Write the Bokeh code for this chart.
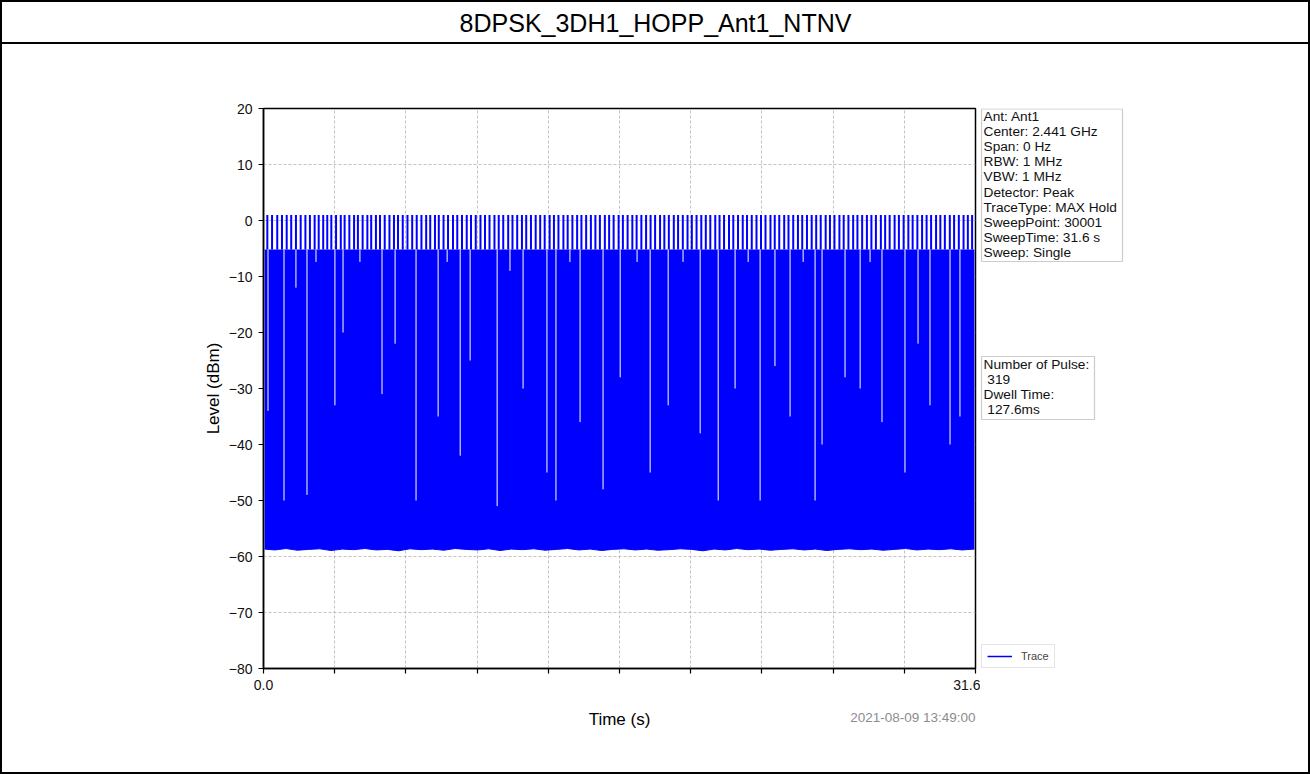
from bokeh.plotting import figure
from bokeh.models import (Range1d, FixedTicker, Title, Legend, LegendItem, Spacer, Label)
from bokeh.layouts import row, column
from bokeh.core.properties import value
from bokeh.embed import file_html
from bokeh.resources import INLINE
import numpy as np

# ---------------- data ----------------
title_text = "8DPSK_3DH1_HOPP_Ant1_NTNV"
x_label = "Time (s)"
y_label = "Level (dBm)"
x_ticks = [0.0, 3.16, 6.32, 9.48, 12.64, 15.8, 18.96, 22.12, 25.28, 28.44, 31.6]
x_tick_labels = ["0.0", "", "", "", "", "", "", "", "", "", "31.6"]
y_ticks = [-80, -70, -60, -50, -40, -30, -20, -10, 0, 10, 20]
y_tick_labels = ["\u221280", "\u221270", "\u221260", "\u221250", "\u221240", "\u221230",
                 "\u221220", "\u221210", "0", "10", "20"]

# tall pulse peaks (s)
spike_t = [0.17, 0.38, 0.61, 0.82, 1.03, 1.23, 1.44, 1.65, 1.86, 2.06, 2.27, 2.45, 2.65,
           2.83, 3.01, 3.22, 3.43, 3.60, 3.81, 4.02, 4.19, 4.40, 4.61, 4.78, 4.99, 5.17,
           5.38, 5.59, 5.79, 5.97, 6.18, 6.39, 6.60, 6.80, 7.01, 7.22, 7.40, 7.61, 7.78,
           7.99, 8.19, 8.41, 8.60, 8.81, 9.02, 9.21, 9.42, 9.63, 9.83, 10.03, 10.25, 10.44,
           10.64, 10.86, 11.05, 11.26, 11.47, 11.66, 11.87, 12.08, 12.28, 12.48, 12.70,
           12.89, 13.09, 13.31, 13.50, 13.71, 13.92, 14.11, 14.32, 14.53, 14.73, 14.93,
           15.15, 15.34, 15.54, 15.76, 15.95, 16.16, 16.37, 16.56, 16.77, 16.98, 17.18,
           17.38, 17.60, 17.79, 17.99, 18.21, 18.40, 18.61, 18.82, 19.01, 19.22, 19.43,
           19.63, 19.83, 20.05, 20.24, 20.44, 20.66, 20.85, 21.06, 21.27, 21.46, 21.67,
           21.88, 22.08, 22.28, 22.50, 22.69, 22.89, 23.11, 23.30, 23.51, 23.72, 23.91,
           24.12, 24.33, 24.53, 24.73, 24.95, 25.14, 25.34, 25.56, 25.75, 25.96, 26.17,
           26.36, 26.57, 26.78, 26.98, 27.18, 27.40, 27.59, 27.79, 28.01, 28.20, 28.41,
           28.62, 28.81, 29.02, 29.23, 29.43, 29.63, 29.85, 30.04, 30.24, 30.46, 30.65,
           30.86, 31.07, 31.26, 31.45]
spike_top_db = 1.0          # peak level of the pulses
block_top_db = -5.2         # level of the dense part of the trace

# noise floor (lower edge of the trace)
floor_t = [0.05, 0.5, 1.0, 1.5, 2.0, 2.5, 3.0, 3.5,
           4.0, 4.5, 5.0, 5.5, 6.0, 6.5, 7.0, 7.5,
           8.0, 8.5, 9.0, 9.5, 10.0, 10.5, 11.0, 11.5,
           12.0, 12.5, 13.0, 13.5, 14.0, 14.5, 15.0, 15.5,
           16.0, 16.5, 17.0, 17.5, 18.0, 18.5, 19.0, 19.5,
           20.0, 20.5, 21.0, 21.5, 22.0, 22.5, 23.0, 23.5,
           24.0, 24.5, 25.0, 25.5, 26.0, 26.5, 27.0, 27.5,
           28.0, 28.5, 29.0, 29.5, 30.0, 30.5, 31.0, 31.55]
floor_db = [-58.68, -58.83, -58.58, -58.88, -58.73, -58.63, -58.93, -58.68,
            -58.78, -58.58, -58.83, -58.73, -58.98, -58.63, -58.78, -58.68,
            -58.88, -58.58, -58.73, -58.83, -58.63, -58.93, -58.68, -58.78,
            -58.63, -58.88, -58.73, -58.58, -58.83, -58.68, -58.93, -58.73,
            -58.63, -58.83, -58.68, -58.88, -58.78, -58.63, -58.73, -58.98,
            -58.68, -58.83, -58.58, -58.78, -58.68, -58.88, -58.73, -58.63,
            -58.83, -58.68, -58.93, -58.73, -58.63, -58.78, -58.68, -58.88,
            -58.73, -58.58, -58.83, -58.68, -58.78, -58.63, -58.83, -58.68]

# gaps between bursts: time and the lowest level the trace max reaches there
dip_t = [0.20, 0.91, 1.44, 1.93, 2.33, 3.17, 3.53, 4.28, 5.26, 5.84, 6.77, 7.75, 8.15,
         8.73, 9.17, 10.37, 10.94, 11.52, 12.58, 12.98, 13.60, 14.05, 15.07, 15.83,
         16.58, 17.16, 17.96, 18.62, 19.38, 20.18, 20.93, 21.51, 22.04, 22.70, 23.37,
         23.95, 24.48, 24.79, 25.81, 26.48, 26.92, 27.45, 28.47, 29.05, 29.58, 30.47, 30.91]
dip_db = [-34, -50, -12, -49, -7.4, -33, -20, -7.4, -31, -22, -50, -35, -7.4,
          -42, -25, -51, -9, -30, -45, -50, -7.4, -36, -48, -28,
          -7.4, -45, -33, -7.4, -38, -50, -30, -7.4, -50, -26, -35,
          -7.4, -50, -40, -28, -30, -7.4, -36, -45, -22, -33, -40, -35]

info_lines = ["Ant: Ant1", "Center: 2.441 GHz", "Span: 0 Hz", "RBW: 1 MHz", "VBW: 1 MHz",
              "Detector: Peak", "TraceType: MAX Hold", "SweepPoint: 30001",
              "SweepTime: 31.6 s", "Sweep: Single"]
pulse_lines = ["Number of Pulse:", "\u00a0319", "Dwell Time:", "\u00a0127.6ms"]
date_text = "2021-08-09 13:49:00"
series_name = "Trace"

FONT = "Liberation Sans"
BLUE = "#0000ff"

# ---------------- page geometry (px) ----------------
INNER_W = 1306
MAIN_W, SIDE_W = 978, 328       # main chart / right-hand info column
ROW_H = 728
TOP_B, BOT_B = 64, 104          # borders above / below the plot frame (page y 108..668)


def black_bar(w, h):
    return Spacer(width=w, height=h, styles={"background-color": "black"})


# ---------------- title row ----------------
tf = figure(width=INNER_W, height=40, x_range=Range1d(0, INNER_W), y_range=Range1d(40, 0),
            output_backend="svg", toolbar_location=None, tools="",
            x_axis_location=None, y_axis_location=None, min_border=0)
tf.outline_line_color = None
tf.grid.visible = False
tf.add_layout(Label(x=653, y=20.5, text=title_text, text_font=FONT, text_font_size="25px",
                    text_align="center", text_baseline="middle", text_color="black"))

# ---------------- main chart ----------------
p = figure(width=MAIN_W, height=ROW_H, x_range=Range1d(0, 31.6), y_range=Range1d(-80, 20),
           output_backend="svg", toolbar_location=None, tools="",
           min_border_left=261, min_border_right=5,
           min_border_top=TOP_B, min_border_bottom=BOT_B)
p.background_fill_color = "white"
p.border_fill_color = "white"
p.outline_line_color = "black"
p.outline_line_width = 1.5

for ax in (p.xaxis[0], p.yaxis[0]):
    ax.axis_line_color = "black"
    ax.axis_line_width = 1.5
    ax.major_tick_line_color = "black"
    ax.major_tick_line_width = 1.2
    ax.major_tick_out = 5
    ax.major_tick_in = 0
    ax.minor_tick_line_color = None
    ax.major_label_text_font = FONT
    ax.major_label_text_font_size = "14px"
    ax.major_label_text_color = "#111111"
    ax.axis_label_text_font = FONT
    ax.axis_label_text_font_size = "17px"
    ax.axis_label_text_font_style = "normal"
    ax.axis_label_text_color = "black"

p.xaxis.ticker = FixedTicker(ticks=x_ticks)
p.xaxis.major_label_overrides = dict(zip(x_ticks, x_tick_labels))
p.xaxis.axis_label = x_label
p.xaxis.major_label_standoff = 6
p.xaxis.axis_label_standoff = 17

p.yaxis.ticker = FixedTicker(ticks=y_ticks)
p.yaxis.major_label_overrides = dict(zip(y_ticks, y_tick_labels))
p.yaxis.axis_label = y_label
p.yaxis.major_label_standoff = 6
p.yaxis.axis_label_standoff = 3

for g in (p.xgrid[0], p.ygrid[0]):
    g.grid_line_color = "#b3b3b3"
    g.grid_line_width = 0.8
    g.grid_line_dash = "3 2"

# trace
p.varea(x=floor_t, y1=floor_db, y2=np.full(len(floor_t), block_top_db), fill_color=BLUE)
p.line(x=floor_t, y=floor_db, line_color=BLUE, line_width=1)
p.segment(x0=spike_t, y0=np.full(len(spike_t), block_top_db),
          x1=spike_t, y1=np.full(len(spike_t), spike_top_db),
          line_color=BLUE, line_width=2.0)
p.segment(x0=dip_t, y0=dip_db, x1=dip_t, y1=np.full(len(dip_t), block_top_db),
          line_color="white", line_width=1)

# time stamp under the x axis, right-aligned with the plot
p.add_layout(Title(text=date_text, align="right", vertical_align="top", standoff=-44,
                   text_font=FONT, text_font_size="13.5px", text_font_style="normal",
                   text_color="#8c8c8c"), "below")

# ---------------- right-hand info column (frame aligned with the plot frame) ----------------
X0 = 980               # page x of this panel
sf = figure(width=SIDE_W, height=ROW_H, x_range=Range1d(X0, X0 + SIDE_W),
            y_range=Range1d(668, 108), output_backend="svg",
            toolbar_location=None, tools="", x_axis_location=None, y_axis_location=None,
            min_border_left=0, min_border_right=0,
            min_border_top=TOP_B, min_border_bottom=BOT_B)
sf.outline_line_color = None
sf.grid.visible = False

sf.quad(left=[981, 981], right=[1122, 1094], top=[108.5, 356], bottom=[261, 419],
        fill_color="white", line_color="#cccccc", line_width=1.2)
sf.text(x=[983] * len(info_lines), y=[115.5 + 15.2 * i for i in range(len(info_lines))],
        text=info_lines, text_font=value(FONT), text_font_size=value("13.7px"),
        text_align="left", text_baseline="middle", text_color="#111111")
sf.text(x=[983] * len(pulse_lines), y=[364 + 15.1 * i for i in range(len(pulse_lines))],
        text=pulse_lines, text_font=value(FONT), text_font_size=value("13.7px"),
        text_align="left", text_baseline="middle", text_color="#111111")

# legend key for the trace (its sample line lies outside the visible range)
trace_key = sf.line(x=[X0 - 20, X0 - 10], y=[700, 700], line_color=BLUE, line_width=1.5)
legend = Legend(items=[LegendItem(label=series_name, renderers=[trace_key])],
                location=(1, 0))
legend.label_text_font = FONT
legend.label_text_font_size = "11px"
legend.glyph_width = 25
legend.glyph_height = 12
legend.label_height = 12
legend.label_standoff = 9
legend.padding = 5
legend.margin = 0
legend.border_line_color = "#cccccc"
legend.border_line_width = 1.2
legend.background_fill_color = "white"
legend.background_fill_alpha = 1
sf.add_layout(legend, "center")

# ---------------- assemble with black frame ----------------
inner = column(black_bar(INNER_W, 2), tf, black_bar(INNER_W, 2), row(p, sf),
               black_bar(INNER_W, 2), spacing=0)
page = row(black_bar(2, 774), inner, black_bar(2, 774), spacing=0)

open("out.html", "w").write(file_html(page, INLINE))
